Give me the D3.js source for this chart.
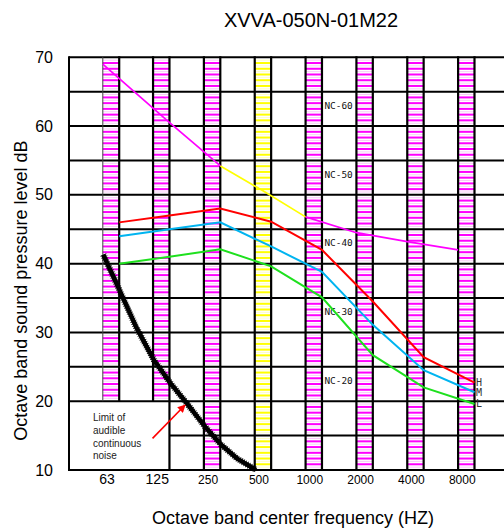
<!DOCTYPE html>
<html>
<head>
<meta charset="utf-8">
<script src="https://cdn.jsdelivr.net/npm/d3@7"></script>
<style>
body { margin: 0; background: #fff; }
svg { display: block; font-family: "Liberation Sans", Arial, sans-serif; }
</style>
</head>
<body>
<svg id="chart" width="504" height="532"></svg>
<script>
// Octave bands (Hz) and dB ticks
var bands = ["63", "125", "250", "500", "1000", "2000", "4000", "8000"]
var freqs = [63, 125, 250, 500, 1000, 2000, 4000, 8000]
var dbTicks = [10, 20, 30, 40, 50, 60, 70]

// Measured levels for H / M / L fan speed, one value per band
var highValues = [46, 47, 48, 46.1, 42, 34.5, 26.4, 22.7]
var medValues = [44, 45, 46, 42.5, 38.8, 31.1, 24.5, 21.3]
var lowValues = [40, 41, 42.1, 39.6, 35.1, 26.7, 22, 19.6]
var speedNames = ["H", "M", "L"]

// Reference curve across the chart (frequency, dB)
var ncFreqs = [56.3, 140, 280, 500, 894, 1789, 3578, 7155]
var ncValues = [69, 60.5, 54.2, 50.6, 46.8, 44.5, 43.2, 42]
var ncLabels = ["NC-60", "NC-50", "NC-40", "NC-30", "NC-20"]
var ncLabelDb = [63, 53, 43, 33, 23]

// Limit of audible continuous noise (frequency, dB)
var limitFreqs = [56.7, 70.6, 88.6, 113, 142, 177, 227, 282, 350, 455]
var limitValues = [41.3, 36.2, 30.8, 26, 22.6, 19.7, 16.3, 13.7, 11.7, 10]
var limitText = ["Limit of", "audible", "continuous", "noise"]
var arrowFrom = [111, 14.6]
var arrowTo = [173, 19.45]

var svg = d3.select("#chart")
var plotLeft = 69, plotRight = 504, plotTop = 57.3, plotBottom = 470
var bandHalf = 8.2

var x = d3.scaleLog().base(2).domain([63, 8000]).range([111, 466.3])
var y = d3.scaleLinear().domain([10, 70]).range([plotBottom, plotTop])

var boxRight = x(125) + bandHalf

// Striped octave band columns
var stripes = svg.append("g")
bands.forEach(function(b, i) {
	var cx = x(freqs[i])
	var strong = b === "500" ? "#ffff00" : "#ff00ff"
	var light = b === "500" ? "#ffffc8" : "#f9ccf9"
	var lowest = i < 2 ? 20 : 10
	for (var db = lowest; db < 70; db += 5) {
		var cellTop = y(db + 5)
		var h = y(db) - cellTop
		for (var k = 0; k < 6; k++) {
			stripes.append("rect")
				.attr("x", cx - bandHalf).attr("width", bandHalf * 2)
				.attr("y", cellTop + (k + 0.5) * h / 6 - 0.5).attr("height", 1)
				.attr("fill", light)
			if (k > 0) {
				stripes.append("rect")
					.attr("x", cx - bandHalf).attr("width", bandHalf * 2)
					.attr("y", cellTop + k * h / 6 - 1).attr("height", 2)
					.attr("fill", strong)
			}
		}
	}
})

// Grid
var grid = svg.append("g").attr("stroke", "#000").attr("stroke-width", 2)
d3.range(10, 71, 5).forEach(function(db) {
	grid.append("line")
		.attr("x1", db === 15 ? boxRight : plotLeft).attr("x2", plotRight)
		.attr("y1", y(db)).attr("y2", y(db))
})
grid.append("line")
	.attr("x1", plotLeft).attr("x2", plotLeft)
	.attr("y1", plotTop - 1).attr("y2", plotBottom + 1)
bands.forEach(function(b, i) {
	var cx = x(freqs[i])
	var lowest = i < 2 ? 20 : 10
	// left edge of the band
	grid.append("line")
		.attr("x1", cx - bandHalf).attr("x2", cx - bandHalf)
		.attr("y1", plotTop - 1).attr("y2", y(lowest))
		.attr("stroke-width", i === 0 ? 1 : 2.2)
		.attr("stroke", i === 0 ? "#444" : "#000")
	// right edge of the band
	grid.append("line")
		.attr("x1", cx + bandHalf).attr("x2", cx + bandHalf)
		.attr("y1", plotTop - 1).attr("y2", i === 0 ? y(20) : y(10) + 1)
		.attr("stroke-width", 2.2)
})

// Reference curve: magenta with a yellow section around 500 Hz
var ncLine = d3.line()
	.x(function(d) { return x(ncFreqs[d]) })
	.y(function(d) { return y(ncValues[d]) })
var ncParts = [[0, 1, 2], [2, 3, 4], [4, 5, 6, 7]]
var ncColors = ["#ff00ff", "#ffff00", "#ff00ff"]
ncParts.forEach(function(part, p) {
	svg.append("path")
		.attr("d", ncLine(part))
		.attr("fill", "none").attr("stroke", ncColors[p]).attr("stroke-width", 1.7)
})

// NC labels
svg.append("g").selectAll("text")
	.data(ncLabels)
	.enter().append("text")
	.attr("x", x(1000) + bandHalf + 2.5)
	.attr("y", function(d, i) { return y(ncLabelDb[i]) })
	.attr("dy", "0.35em")
	.style("font-family", "'DejaVu Sans Mono', monospace")
	.style("font-size", "9.4px")
	.attr("fill", "#111")
	.text(function(d) { return d })

// Measured series, plotted on the right-hand line of each band
var series = [highValues, medValues, lowValues]
var colors = ["#ff0000", "#00b4f0", "#1ee01e"]
var line = d3.line()
	.x(function(d, i) { return x(freqs[i]) + bandHalf })
	.y(function(d) { return y(d) })
series.forEach(function(vals, s) {
	svg.append("path")
		.attr("d", line(vals))
		.attr("fill", "none")
		.attr("stroke", colors[s])
		.attr("stroke-width", 2)
	svg.append("text")
		.attr("x", x(freqs[7]) + bandHalf + 1.5)
		.attr("y", y(vals[7]))
		.attr("dy", "0.35em")
		.style("font-family", "'DejaVu Sans Mono', monospace")
		.style("font-size", "10px")
		.attr("fill", "#333")
		.text(speedNames[s])
})

// Limit of audible continuous noise
var limitLine = d3.line()
	.x(function(d, i) { return x(limitFreqs[i]) })
	.y(function(d) { return y(d) })
svg.append("path")
	.attr("d", limitLine(limitValues))
	.attr("fill", "none").attr("stroke", "#000")
	.attr("stroke-width", 4.5).attr("stroke-linejoin", "round")
svg.append("path")
	.attr("d", limitLine(limitValues))
	.attr("fill", "none").attr("stroke", "#000")
	.attr("stroke-width", 6.5).attr("stroke-dasharray", "0.8,1.4")

svg.append("defs").append("marker")
	.attr("id", "arrow")
	.attr("viewBox", "0 0 10 10")
	.attr("refX", 9).attr("refY", 5)
	.attr("markerWidth", 5).attr("markerHeight", 5)
	.attr("orient", "auto")
	.append("path").attr("d", "M0,0L10,5L0,10z").attr("fill", "#ff0000")
svg.append("line")
	.attr("x1", x(arrowFrom[0])).attr("y1", y(arrowFrom[1]))
	.attr("x2", x(arrowTo[0])).attr("y2", y(arrowTo[1]))
	.attr("stroke", "#ff0000").attr("stroke-width", 1.6)
	.attr("marker-end", "url(#arrow)")

svg.append("g").selectAll("text")
	.data(limitText)
	.enter().append("text")
	.attr("x", plotLeft + 24)
	.attr("y", function(d, i) { return y(20) + 19.5 + i * 12.9 })
	.style("font-size", "10px")
	.attr("fill", "#222")
	.text(function(d) { return d })

// Axis labels
svg.append("g").selectAll("text")
	.data(dbTicks)
	.enter().append("text")
	.attr("x", 53)
	.attr("y", function(d) { return y(d) })
	.attr("dy", "0.35em")
	.attr("text-anchor", "end")
	.style("font-size", "16px")
	.text(function(d) { return d })

svg.append("g").selectAll("text")
	.data(bands)
	.enter().append("text")
	.attr("x", function(d, i) { return x(freqs[i]) - 4 })
	.attr("y", 483.5)
	.attr("text-anchor", "middle")
	.style("font-size", function(d, i) { return i < 2 ? "14px" : "12px" })
	.text(function(d) { return d })

svg.append("text")
	.attr("x", 311).attr("y", 26.5)
	.attr("text-anchor", "middle")
	.style("font-size", "20px")
	.text("XVVA-050N-01M22")

svg.append("text")
	.attr("x", 293).attr("y", 524)
	.attr("text-anchor", "middle")
	.style("font-size", "18px")
	.text("Octave band center frequency (HZ)")

svg.append("text")
	.attr("transform", "translate(26.5," + ((plotTop + plotBottom) / 2 + 27) + ") rotate(-90)")
	.attr("text-anchor", "middle")
	.style("font-size", "18px")
	.text("Octave band sound pressure level dB")
</script>
</body>
</html>
